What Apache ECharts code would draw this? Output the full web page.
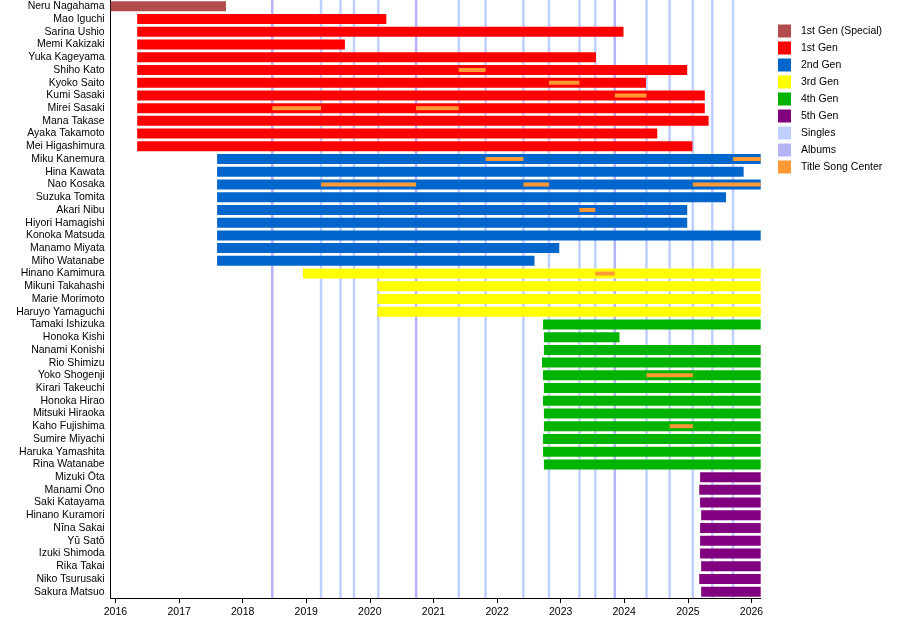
<!DOCTYPE html>
<html>
<head>
<meta charset="utf-8">
<script src="https://cdn.jsdelivr.net/npm/echarts@6/dist/echarts.min.js"></script>
<style>
html,body{margin:0;padding:0;background:#fff;}
#chart{width:900px;height:618px;}
</style>
</head>
<body>
<div id="chart"></div>
<script>
const axisStart = '2015-12-05';
const axisEnd = '2026-02-23';
const NOW = axisEnd;

const gen1Special = [
  ['Neru Nagahama', '2015-12-05', '2017-09-27']
];
const gen1 = [
  ['Mao Iguchi', '2016-05-05', '2020-04-05'],
  ['Sarina Ushio', '2016-05-05', '2023-12-28'],
  ['Memi Kakizaki', '2016-05-05', '2019-08-11'],
  ['Yuka Kageyama', '2016-05-05', '2023-07-23'],
  ['Shiho Kato', '2016-05-05', '2024-12-28'],
  ['Kyoko Saito', '2016-05-05', '2024-05-05'],
  ['Kumi Sasaki', '2016-05-05', '2025-04-08'],
  ['Mirei Sasaki', '2016-05-05', '2025-04-08'],
  ['Mana Takase', '2016-05-05', '2025-04-30'],
  ['Ayaka Takamoto', '2016-05-05', '2024-07-09'],
  ['Mei Higashimura', '2016-05-05', '2025-01-27']
];
const gen2 = [
  ['Miku Kanemura', '2017-08-07', NOW],
  ['Hina Kawata', '2017-08-07', '2025-11-17'],
  ['Nao Kosaka', '2017-08-07', NOW],
  ['Suzuka Tomita', '2017-08-07', '2025-08-08'],
  ['Akari Nibu', '2017-08-07', '2024-12-28'],
  ['Hiyori Hamagishi', '2017-08-07', '2024-12-28'],
  ['Konoka Matsuda', '2017-08-07', NOW],
  ['Manamo Miyata', '2017-08-07', '2022-12-24'],
  ['Miho Watanabe', '2017-08-07', '2022-08-04']
];
const gen3 = [
  ['Hinano Kamimura', '2018-12-13', NOW],
  ['Mikuni Takahashi', '2020-02-13', NOW],
  ['Marie Morimoto', '2020-02-13', NOW],
  ['Haruyo Yamaguchi', '2020-02-13', NOW]
];
const gen4 = [
  ['Tamaki Ishizuka', '2022-09-22', NOW],
  ['Honoka Kishi', '2022-09-27', '2023-12-05'],
  ['Nanami Konishi', '2022-09-27', NOW],
  ['Rio Shimizu', '2022-09-16', NOW],
  ['Yoko Shogenji', '2022-09-22', NOW],
  ['Kirari Takeuchi', '2022-09-27', NOW],
  ['Honoka Hirao', '2022-09-22', NOW],
  ['Mitsuki Hiraoka', '2022-09-27', NOW],
  ['Kaho Fujishima', '2022-09-27', NOW],
  ['Sumire Miyachi', '2022-09-22', NOW],
  ['Haruka Yamashita', '2022-09-22', NOW],
  ['Rina Watanabe', '2022-09-27', NOW]
];
const gen5 = [
  ['Mizuki Ōta', '2025-03-12', NOW],
  ['Manami Ōno', '2025-03-07', NOW],
  ['Saki Katayama', '2025-03-12', NOW],
  ['Hinano Kuramori', '2025-03-18', NOW],
  ['Nīna Sakai', '2025-03-12', NOW],
  ['Yū Satō', '2025-03-12', NOW],
  ['Izuki Shimoda', '2025-03-12', NOW],
  ['Rika Takai', '2025-03-18', NOW],
  ['Niko Tsurusaki', '2025-03-07', NOW],
  ['Sakura Matsuo', '2025-03-18', NOW]
];
const singles = [
  '2019-03-27', '2019-07-17', '2019-10-02', '2020-02-19', '2021-05-26',
  '2021-10-27', '2022-06-01', '2022-10-26', '2023-04-19', '2023-07-19',
  '2024-05-08', '2024-09-18', '2025-01-29', '2025-05-21', '2025-09-17'
];
const albums = ['2018-06-20', '2020-09-23', '2023-11-08'];
const centers = [
  ['Mirei Sasaki', '2018-06-20', '2019-03-27'],
  ['Nao Kosaka', '2019-03-27', '2020-09-23'],
  ['Mirei Sasaki', '2020-09-23', '2021-05-26'],
  ['Shiho Kato', '2021-05-26', '2021-10-27'],
  ['Miku Kanemura', '2021-10-27', '2022-06-01'],
  ['Nao Kosaka', '2022-06-01', '2022-10-26'],
  ['Kyoko Saito', '2022-10-26', '2023-04-19'],
  ['Akari Nibu', '2023-04-19', '2023-07-19'],
  ['Hinano Kamimura', '2023-07-19', '2023-11-08'],
  ['Kumi Sasaki', '2023-11-08', '2024-05-08'],
  ['Yoko Shogenji', '2024-05-08', '2025-01-29'],
  ['Kaho Fujishima', '2024-09-18', '2025-01-29'],
  ['Nao Kosaka', '2025-01-29', NOW],
  ['Miku Kanemura', '2025-09-17', NOW]
];

const groups = [
  {name: '1st Gen (Special)', color: '#b34d4d', rows: gen1Special},
  {name: '1st Gen', color: '#ff0000', rows: gen1},
  {name: '2nd Gen', color: '#0066cc', rows: gen2},
  {name: '3rd Gen', color: '#ffff00', rows: gen3},
  {name: '4th Gen', color: '#00b300', rows: gen4},
  {name: '5th Gen', color: '#800080', rows: gen5}
];
const categories = [];
groups.forEach(g => g.rows.forEach(r => categories.push(r[0])));
const t = s => Date.parse(s + 'T00:00:00Z');

function rectRender(h) {
  return function (params, api) {
    const s = api.coord([api.value(0), api.value(2)]);
    const e = api.coord([api.value(1), api.value(2)]);
    return {
      type: 'rect',
      shape: {x: s[0], y: s[1] - h / 2, width: e[0] - s[0], height: h},
      style: {fill: api.visual('color')}
    };
  };
}
function lineRender(w) {
  return function (params, api) {
    const x = api.coord([api.value(0), 0])[0];
    const cs = params.coordSys;
    return {
      type: 'line',
      shape: {x1: x, y1: cs.y, x2: x, y2: cs.y + cs.height},
      style: {stroke: api.visual('color'), lineWidth: w}
    };
  };
}

const series = [];
series.push({
  name: 'Singles', type: 'custom', renderItem: lineRender(2.5), z: 1,
  itemStyle: {color: '#bfcfff'}, encode: {x: 0},
  data: singles.map(d => [t(d)])
});
series.push({
  name: 'Albums', type: 'custom', renderItem: lineRender(2.5), z: 1,
  itemStyle: {color: '#b3b3f5'}, encode: {x: 0},
  data: albums.map(d => [t(d)])
});
groups.forEach(g => {
  series.push({
    name: g.name, type: 'custom', renderItem: rectRender(10), z: 2,
    itemStyle: {color: g.color}, encode: {x: [0, 1], y: 2},
    data: g.rows.map(r => [t(r[1]), t(r[2]), categories.indexOf(r[0])])
  });
});
series.push({
  name: 'Title Song Center', type: 'custom', renderItem: rectRender(4), z: 3,
  itemStyle: {color: '#ff9933'}, encode: {x: [0, 1], y: 2},
  data: centers.map(r => [t(r[1]), t(r[2]), categories.indexOf(r[0])])
});

const chart = echarts.init(document.getElementById('chart'), null, {renderer: 'canvas'});
const FONT = 'Liberation Sans, Arial, Helvetica, sans-serif';
chart.setOption({
  animation: false,
  useUTC: true,
  textStyle: {fontFamily: FONT},
  grid: {left: 110.7, right: 139.3, top: -1.1, bottom: 19.6, containLabel: false},
  legend: {
    orient: 'vertical', left: 773, top: 19.5, itemWidth: 13, itemHeight: 13, itemGap: 4,
    icon: 'rect',
    data: ['1st Gen (Special)', '1st Gen', '2nd Gen', '3rd Gen', '4th Gen', '5th Gen', 'Singles', 'Albums', 'Title Song Center'],
    textStyle: {fontSize: 10.5, color: '#000', fontFamily: FONT, lineHeight: 13, padding: [0, 0, 0, 5]}
  },
  xAxis: {
    type: 'time', min: t(axisStart), max: t(axisEnd),
    minInterval: 365 * 24 * 3600 * 1000, maxInterval: 366 * 24 * 3600 * 1000,
    axisLine: {show: true, lineStyle: {color: '#000', width: 1}},
    axisTick: {show: true, length: 5, lineStyle: {color: '#000'}},
    axisLabel: {formatter: '{yyyy}', fontSize: 10.5, color: '#000', margin: 9, showMinLabel: false, showMaxLabel: false, fontFamily: FONT},
    splitLine: {show: false}
  },
  yAxis: {
    type: 'category', data: categories, inverse: true,
    axisLine: {show: true, lineStyle: {color: '#000', width: 1}},
    axisTick: {show: false},
    axisLabel: {fontSize: 10.5, color: '#000', margin: 6, interval: 0, fontFamily: FONT},
    splitLine: {show: false}
  },
  series: series
});
</script>
</body>
</html>
